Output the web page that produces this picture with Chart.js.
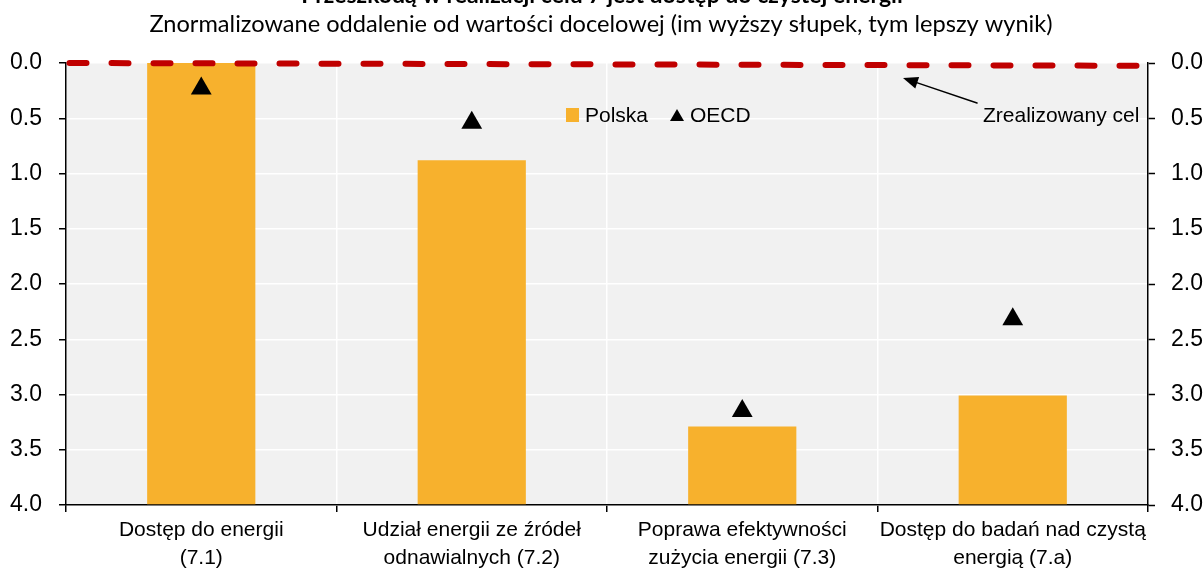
<!DOCTYPE html>
<html>
<head>
<meta charset="utf-8">
<script src="https://cdn.jsdelivr.net/npm/chart.js@4/dist/chart.umd.min.js"></script>
<style>
  html, body { margin: 0; padding: 0; background: #ffffff; }
  #wrap { width: 1204px; height: 570px; position: relative; overflow: hidden; }
  canvas { display: block; }
</style>
</head>
<body>
<div id="wrap"><canvas id="c" width="1204" height="570"></canvas></div>
<script>
// ---- data ----
const titleText = "Przeszkodą w realizacji celu 7 jest dostęp do czystej energii";
const subtitleText = "Znormalizowane oddalenie od wartości docelowej (im wyższy słupek, tym lepszy wynik)";
const categories = [
  ["Dostęp do energii", "(7.1)"],
  ["Udział energii ze źródeł", "odnawialnych (7.2)"],
  ["Poprawa efektywności", "zużycia energii (7.3)"],
  ["Dostęp do badań nad czystą", "energią (7.a)"]
];
const seriesNames = ["Polska", "OECD"];
const polskaValues = [0.0, 0.88, 3.29, 3.01];
const oecdValues = [0.23, 0.54, 3.15, 2.32];
const targetLine = [0.0, 0.025];   // "Zrealizowany cel" line, left and right ends
const targetLabel = "Zrealizowany cel";
const yTicksMin = 0, yTicksMax = 4, yTickStep = 0.5;

// ---- styles ----
const ORANGE = "#f7b12d";
const RED = "#c00000";
const PLOT_BG = "#f1f1f1";
const NARROW = "'Liberation Sans Narrow', 'Arial Narrow', 'Liberation Sans', sans-serif";
const TITLE_FONT = "Lato, 'Open Sans', sans-serif";
const FS = 21;

const overlay = {
  id: "overlay",
  beforeDraw(chart) {
    const { ctx, chartArea: a } = chart;
    ctx.save();
    ctx.fillStyle = PLOT_BG;
    ctx.fillRect(a.left, a.top, a.right - a.left, a.bottom - a.top);
    ctx.restore();
  },
  afterDraw(chart) {
    const { ctx, chartArea: a } = chart;
    const y = chart.scales.y;
    ctx.save();
    // titles
    ctx.fillStyle = "#000";
    ctx.textAlign = "center";
    ctx.textBaseline = "alphabetic";
    ctx.font = "bold 23px " + TITLE_FONT;
    ctx.fillText(titleText, 602, 3);
    ctx.font = "23.6px " + TITLE_FONT;
    ctx.fillText(subtitleText, 601, 32);

    // target dashed line
    ctx.strokeStyle = RED;
    ctx.lineWidth = 6;
    ctx.lineCap = "round";
    ctx.setLineDash([17, 25]);
    ctx.beginPath();
    ctx.moveTo(a.left + 3.5, y.getPixelForValue(targetLine[0]));
    ctx.lineTo(a.right - 6, y.getPixelForValue(targetLine[1]));
    ctx.stroke();
    ctx.setLineDash([]);

    // legend
    ctx.font = FS + "px " + NARROW;
    ctx.textAlign = "left";
    ctx.fillStyle = ORANGE;
    const lx = a.left + 500, ly = 122;
    ctx.fillRect(lx, ly - 14, 13, 14);
    ctx.fillStyle = "#000";
    ctx.fillText(seriesNames[0], lx + 19, ly);
    const tx = lx + 111;
    ctx.beginPath();
    ctx.moveTo(tx - 7, ly - 1);
    ctx.lineTo(tx + 7, ly - 1);
    ctx.lineTo(tx, ly - 13);
    ctx.closePath();
    ctx.fill();
    ctx.fillText(seriesNames[1], tx + 13, ly);

    // annotation
    ctx.fillText(targetLabel, a.right - 165, 122);
    const x0 = a.right - 171, y0 = 103;
    const x1 = a.right - 245, y1 = 78;
    ctx.strokeStyle = "#000";
    ctx.lineWidth = 1.5;
    ctx.beginPath();
    ctx.moveTo(x0, y0);
    ctx.lineTo(x1 + 10, y1 + 3.4);
    ctx.stroke();
    const ang = Math.atan2(y0 - y1, x0 - x1);
    const L = 15, W = 6;
    ctx.beginPath();
    ctx.moveTo(x1, y1);
    ctx.lineTo(x1 + L * Math.cos(ang) - W * Math.sin(ang), y1 + L * Math.sin(ang) + W * Math.cos(ang));
    ctx.lineTo(x1 + L * Math.cos(ang) + W * Math.sin(ang), y1 + L * Math.sin(ang) - W * Math.cos(ang));
    ctx.closePath();
    ctx.fill();
    ctx.restore();
  }
};

const yScaleCommon = {
  min: yTicksMin, max: yTicksMax, reverse: true,
  ticks: {
    stepSize: yTickStep, color: "#000", padding: 17,
    font: { family: NARROW, size: 23 },
    callback: v => Number(v).toFixed(1)
  },
  border: { color: "#000", width: 1.5 },
};

new Chart(document.getElementById("c"), {
  data: {
    labels: categories,
    datasets: [
      {
        type: "line", label: seriesNames[1], data: oecdValues,
        showLine: false, pointStyle: "triangle", pointRadius: 12, pointHoverRadius: 12,
        backgroundColor: "#000", borderColor: "#000", pointBorderWidth: 0, order: 0
      },
      {
        type: "bar", label: seriesNames[0], data: polskaValues, base: yTicksMax,
        backgroundColor: ORANGE, borderWidth: 0,
        barPercentage: 0.4, categoryPercentage: 1.0, order: 1
      }
    ]
  },
  options: {
    responsive: false, animation: false, devicePixelRatio: 1,
    layout: { padding: { top: 63, left: 0, right: 0, bottom: 0 } },
    plugins: { legend: { display: false }, title: { display: false }, tooltip: { enabled: false } },
    scales: {
      x: {
        offset: true,
        grid: {
          offset: true, color: "#ffffff", lineWidth: 1.5,
          tickColor: "#000", tickLength: 7, tickWidth: 1.5
        },
        border: { color: "#000", width: 1.5 },
        ticks: {
          color: "#000", maxRotation: 0, autoSkip: false, padding: 4,
          font: { family: NARROW, size: FS, lineHeight: 1.33 }
        },
        afterFit: s => { s.height = 65; }
      },
      y: Object.assign({}, yScaleCommon, {
        position: "left",
        grid: { color: "#ffffff", lineWidth: 1.5, tickColor: "#000", tickLength: 7, tickWidth: 1.5 },
        afterFit: s => { s.width = 66; }
      }),
      y2: Object.assign({}, yScaleCommon, {
        position: "right",
        ticks: Object.assign({}, yScaleCommon.ticks, { padding: 16 }),
        grid: { drawOnChartArea: false, tickColor: "#000", tickLength: 7, tickWidth: 1.5 },
        afterFit: s => { s.width = 56; }
      })
    }
  },
  plugins: [overlay]
});
</script>
</body>
</html>
